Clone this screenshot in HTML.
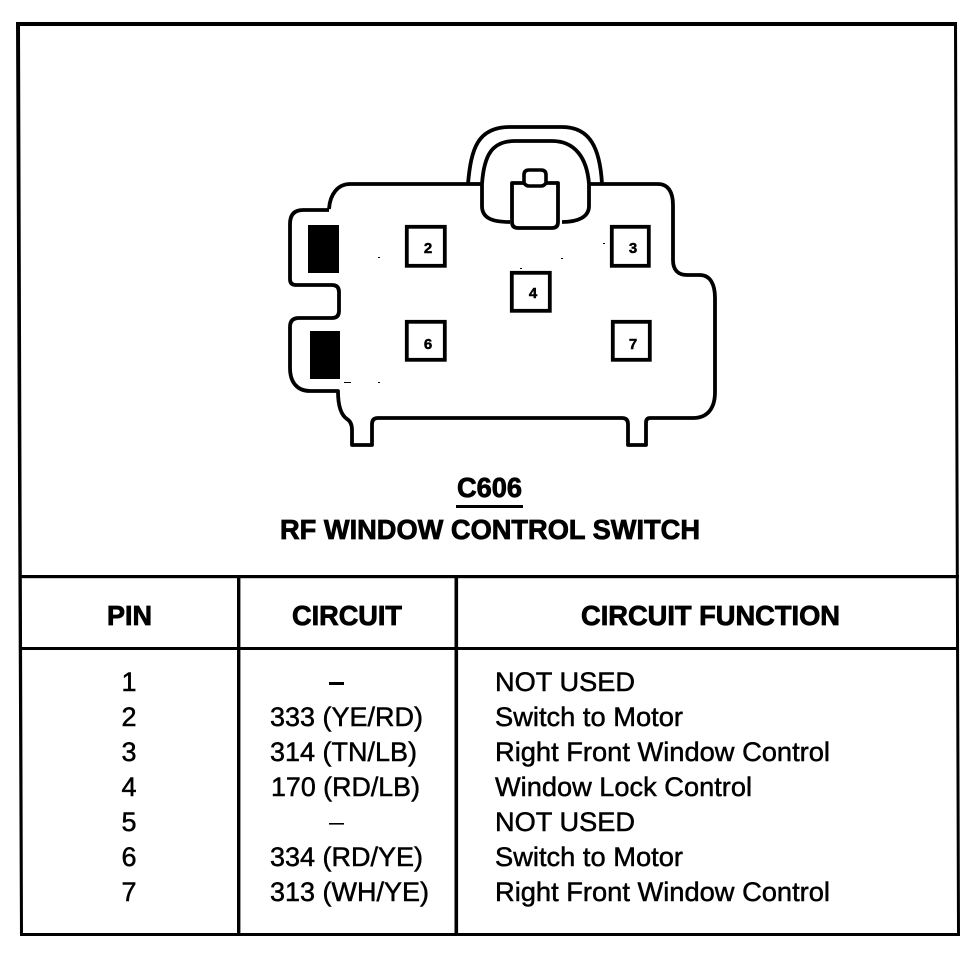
<!DOCTYPE html>
<html><head><meta charset="utf-8"><style>
html,body{margin:0;padding:0;background:#fff}
svg{display:block}
text{font-family:"Liberation Sans",sans-serif;fill:#000}
.b{font-weight:bold;font-size:28px;stroke:#000;stroke-width:.8px}
.r{font-size:27px;stroke:#000;stroke-width:.5px}
.p{font-weight:bold;font-size:15px;text-anchor:middle;stroke:#000;stroke-width:.5px}
.l{fill:none;stroke:#000;stroke-width:3.8;stroke-linejoin:round}
</style></head><body>
<svg width="972" height="960" viewBox="0 0 972 960" xmlns="http://www.w3.org/2000/svg">
<rect width="972" height="960" fill="#fff"/>
<!-- frame -->
<path fill="#000" fill-rule="evenodd" d="M16,22H957L960,936H20ZM20,26L23,933H957L954,26Z"/>
<rect x="19" y="575" width="940" height="3.2"/>
<rect x="20" y="647" width="938" height="3"/>
<rect x="237" y="576" width="3.4" height="359"/>
<rect x="454.5" y="576" width="3.6" height="359"/>
<!-- connector body -->
<path class="l" d="M329,209 C330,194 338,184 350,184 H468 M588,184 H658 C668,184 673,192 673,205 V260 C673,270 678,275 687,275 H700 C710,275 715,284 715,298 V392 C715,409 707,418 693,418 H650 Q646,418 646,423 V445 H628 V424 Q628,418 622,418 H378 Q372,418 372,424 V445 H352 V430 Q352,422 347,419 C341,415 338,405 338,391 H310 C297,391 290,382 290,368 V327 Q290,318 299,318 H332 Q339,318 339,311 V292 Q339,285 332,285 H296 Q290,285 290,279 V224 Q290,210 303,210 H329"/>
<path class="l" d="M468,184 H482"/>
<!-- handle -->
<path class="l" d="M468,184 C471,148 478,127 510,127 H562 C590,127 600,148 602,184"/>
<path class="l" d="M482,184 V206 C482,218 492,222 510,222 M482,184 C484,155 492,141 515,141 H552 C575,141 587,158 589,184 V206 C589,217 578,222 562,222"/>
<path d="M512,183 H558 V222 Q558,228 552,228 H518 Q512,228 512,222 Z" fill="#fff" stroke="#000" stroke-width="3.8" stroke-linejoin="round"/>
<path d="M524,183 V175 Q524,170 529,170 H541 Q546,170 546,175 V183 Q544,186 541,186 H529 Q526,186 524,183 Z" fill="#fff" stroke="#000" stroke-width="3.6"/>
<!-- black blocks -->
<rect x="308" y="225" width="31" height="48"/>
<rect x="310" y="331" width="30" height="48"/>
<!-- pins -->
<g fill="#fff" stroke="#000" stroke-width="3.8">
<rect x="406.8" y="226.8" width="38" height="39"/>
<rect x="611.8" y="226.8" width="37" height="39"/>
<rect x="511.8" y="272.8" width="38" height="38"/>
<rect x="406.8" y="321.8" width="38" height="38"/>
<rect x="612.8" y="321.8" width="37" height="38"/>
</g>
<text class="p" x="428" y="253">2</text>
<text class="p" x="633" y="253">3</text>
<text class="p" x="533" y="298">4</text>
<text class="p" x="428" y="349">6</text>
<text class="p" x="633" y="349">7</text>
<!-- specks -->
<g>
<rect x="378" y="257" width="2" height="1"/>
<rect x="561" y="258" width="2" height="1"/>
<rect x="603" y="243" width="2" height="1"/>
<rect x="520" y="268" width="2" height="1"/>
<rect x="344" y="382" width="7" height="1"/>
<rect x="378" y="382" width="2" height="1"/>
</g>
<!-- title -->
<text class="b" x="457" y="497" textLength="65" lengthAdjust="spacingAndGlyphs">C606</text>
<rect x="456" y="505" width="67" height="3"/>
<text class="b" x="280" y="539" textLength="420" lengthAdjust="spacingAndGlyphs">RF WINDOW CONTROL SWITCH</text>
<!-- headers -->
<text class="b" x="107" y="625" textLength="45" lengthAdjust="spacingAndGlyphs">PIN</text>
<text class="b" x="292" y="625" textLength="110" lengthAdjust="spacingAndGlyphs">CIRCUIT</text>
<text class="b" x="581" y="625" textLength="259" lengthAdjust="spacingAndGlyphs">CIRCUIT FUNCTION</text>
<!-- pin col -->
<g text-anchor="middle">
<text class="r" x="129" y="691">1</text>
<text class="r" x="129" y="726">2</text>
<text class="r" x="129" y="761">3</text>
<text class="r" x="129" y="796">4</text>
<text class="r" x="129" y="831">5</text>
<text class="r" x="129" y="866">6</text>
<text class="r" x="129" y="901">7</text>
</g>
<!-- circuit col -->
<rect x="329" y="682" width="15" height="3"/>
<rect x="329" y="823" width="15" height="1.6"/>
<text class="r" x="270" y="726" textLength="153" lengthAdjust="spacingAndGlyphs">333 (YE/RD)</text>
<text class="r" x="270" y="761" textLength="147" lengthAdjust="spacingAndGlyphs">314 (TN/LB)</text>
<text class="r" x="271" y="796" textLength="149" lengthAdjust="spacingAndGlyphs">170 (RD/LB)</text>
<text class="r" x="270" y="866" textLength="153" lengthAdjust="spacingAndGlyphs">334 (RD/YE)</text>
<text class="r" x="270" y="901" textLength="159" lengthAdjust="spacingAndGlyphs">313 (WH/YE)</text>
<!-- function col -->
<text class="r" x="495" y="691" textLength="140" lengthAdjust="spacingAndGlyphs">NOT USED</text>
<text class="r" x="495" y="726" textLength="188" lengthAdjust="spacingAndGlyphs">Switch to Motor</text>
<text class="r" x="495" y="761" textLength="335" lengthAdjust="spacingAndGlyphs">Right Front Window Control</text>
<text class="r" x="495" y="796" textLength="257" lengthAdjust="spacingAndGlyphs">Window Lock Control</text>
<text class="r" x="495" y="831" textLength="140" lengthAdjust="spacingAndGlyphs">NOT USED</text>
<text class="r" x="495" y="866" textLength="188" lengthAdjust="spacingAndGlyphs">Switch to Motor</text>
<text class="r" x="495" y="901" textLength="335" lengthAdjust="spacingAndGlyphs">Right Front Window Control</text>
</svg>
</body></html>
